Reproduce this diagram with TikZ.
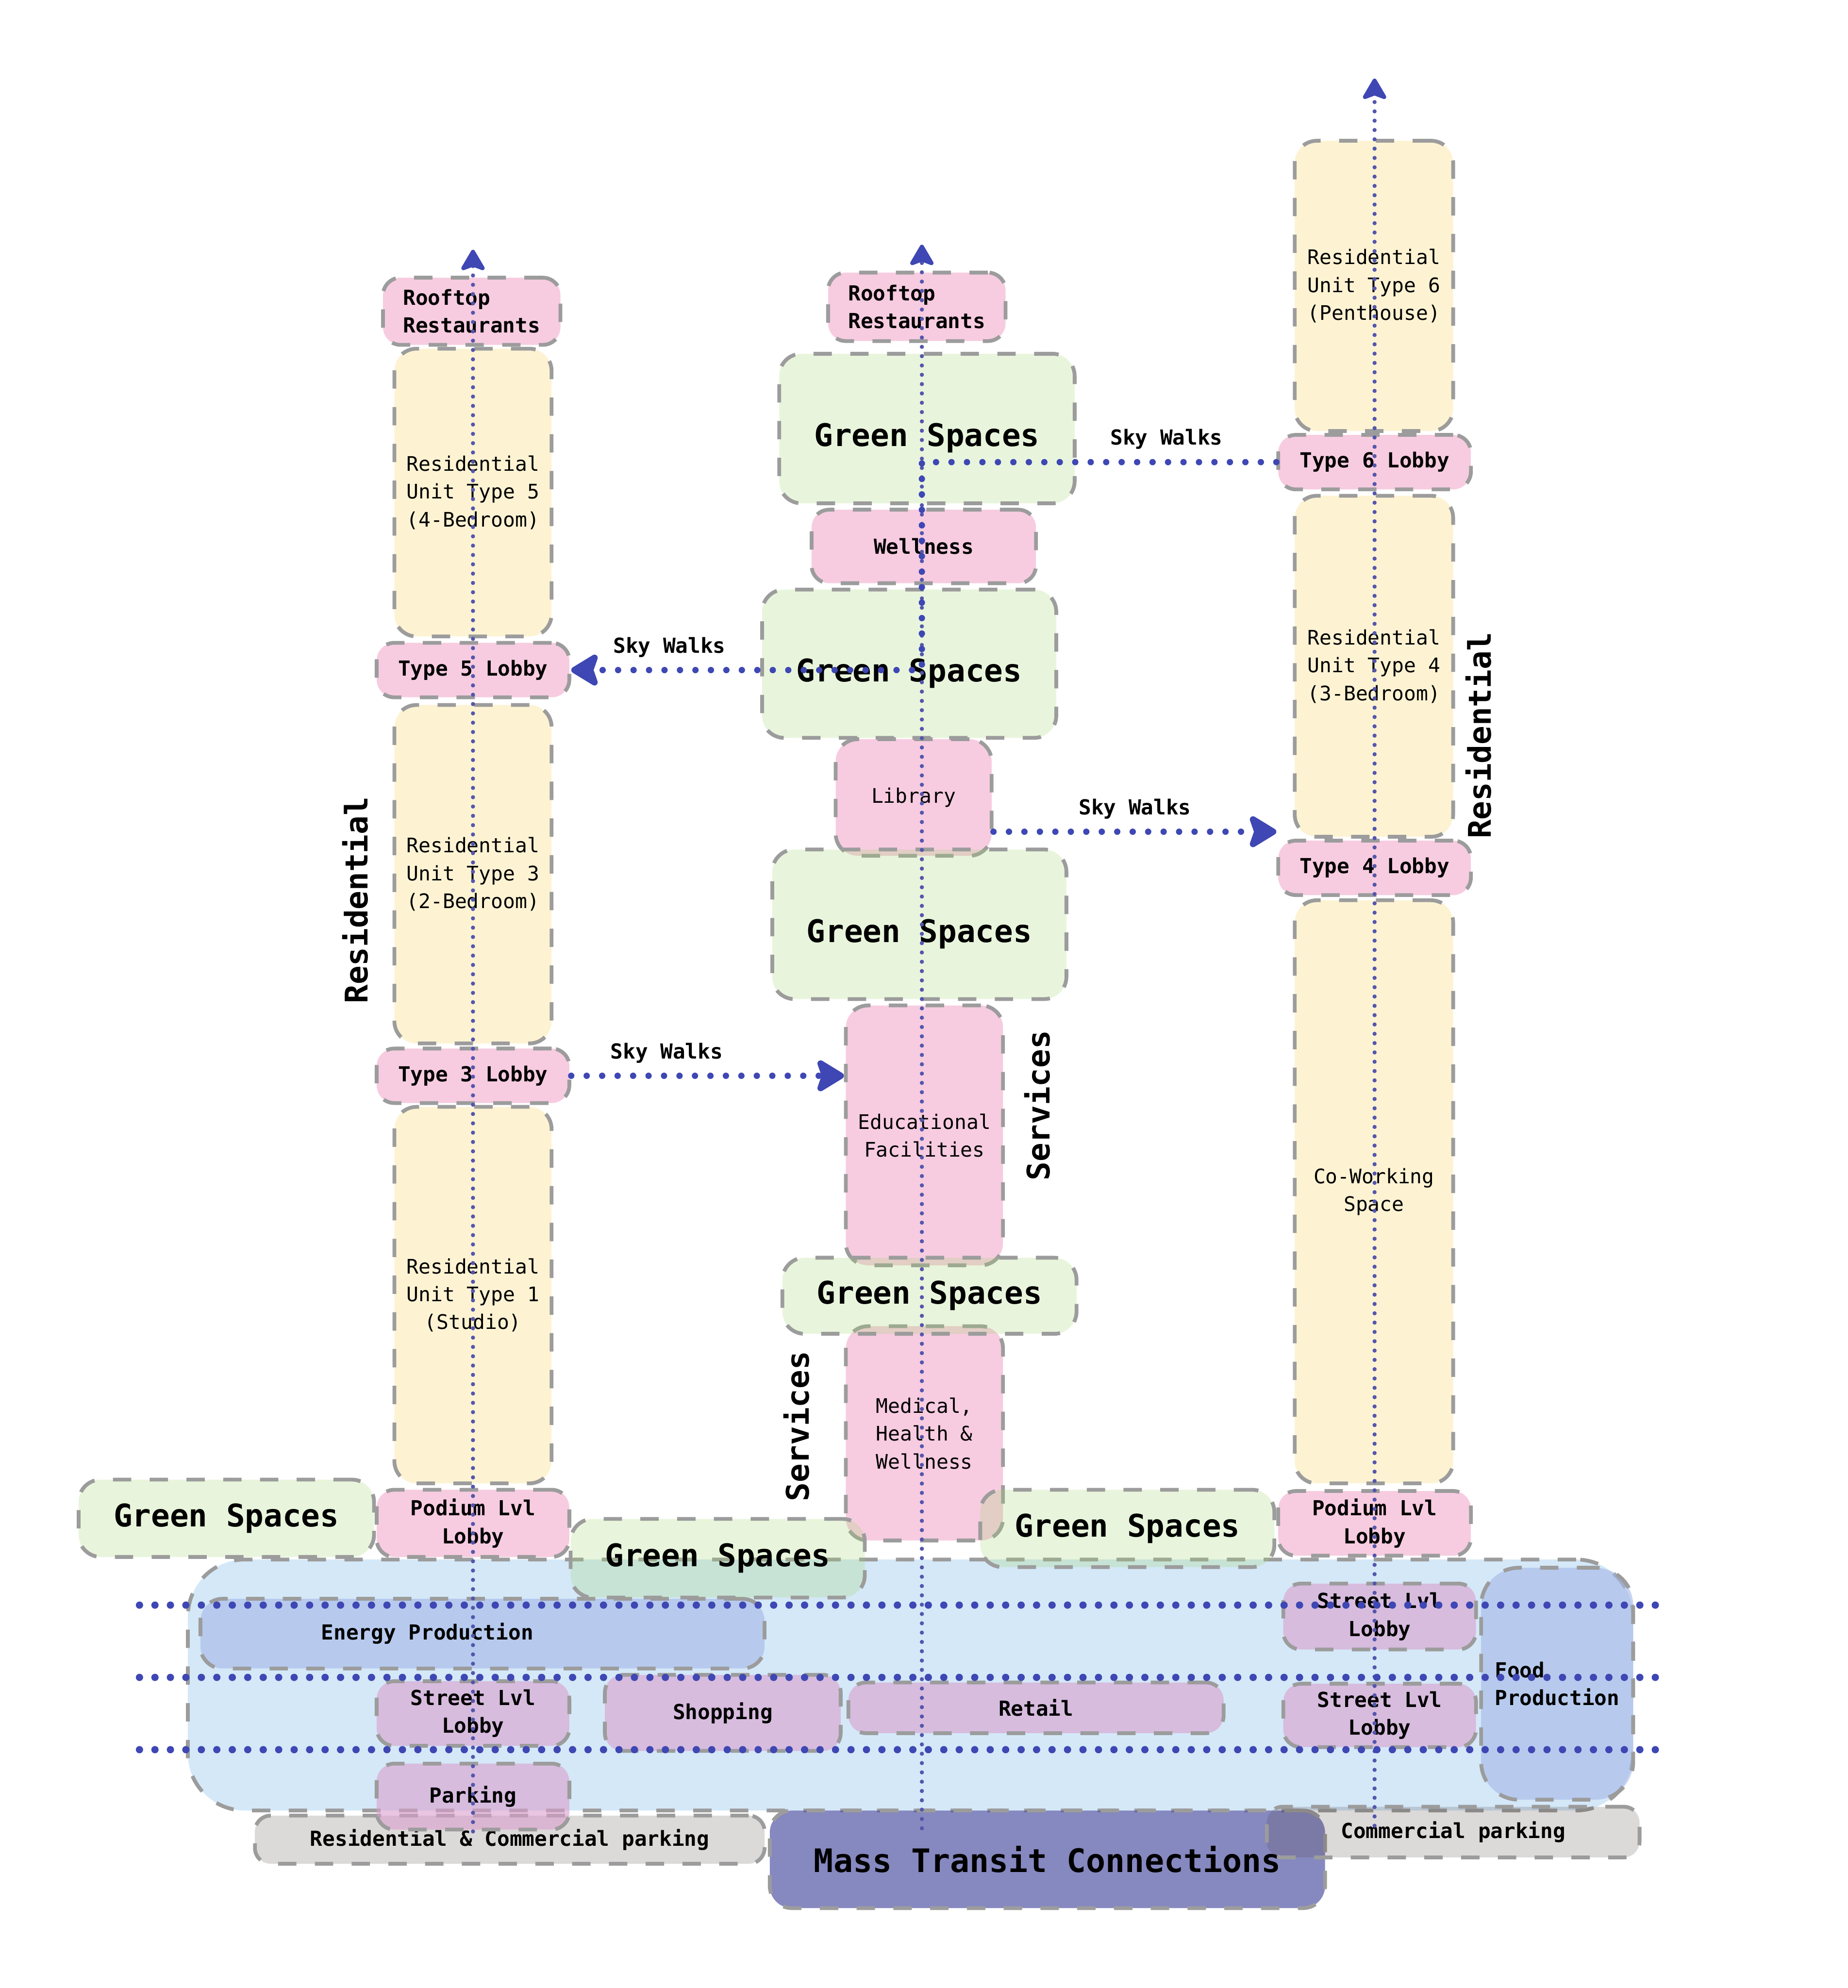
\documentclass[tikz,border=0pt]{standalone}
\usepackage{fontspec}
\setmonofont{DejaVu Sans Mono}
\usetikzlibrary{arrows.meta, calc}
\definecolor{ResYellow}{HTML}{F8D76C}
\definecolor{LobbyPink}{HTML}{E86DA6}
\definecolor{GreenSpace}{HTML}{A3D773}
\definecolor{PodiumBlue}{HTML}{70B2E8}
\definecolor{InfraBlue}{HTML}{A4B8E7}
\definecolor{StreetPurple}{HTML}{DB9FCD}
\definecolor{ParkGray}{HTML}{504141}
\definecolor{TransitBlue}{HTML}{5256A5}
\definecolor{DashGray}{HTML}{9C9C9C}
\definecolor{WalkBlue}{HTML}{3E47B3}
\definecolor{ColLine}{HTML}{5456AC}
\newcommand{\unitfont}{\ttfamily\fontsize{9}{12.5}\selectfont}
\newcommand{\lobbyfont}{\ttfamily\bfseries\fontsize{9.3}{12.5}\selectfont}
\newcommand{\bigfont}{\ttfamily\bfseries\fontsize{14}{16}\selectfont}
\newcommand{\transitfont}{\ttfamily\bfseries\fontsize{14.5}{16}\selectfont}

\begin{document}
\begin{tikzpicture}[
  x=0.02cm, y=-0.02cm,
  blk/.style={draw=DashGray, line width=1.7pt, dash pattern=on 0.29cm off 0.29cm,
    rounded corners=0.35cm, text opacity=1, align=center, inner sep=0pt, text=black},
  resbox/.style={blk, fill=ResYellow, fill opacity=0.3, font=\unitfont, minimum width=2.48cm},
  lobbybox/.style={blk, fill=LobbyPink, fill opacity=0.35, font=\lobbyfont, minimum width=3.04cm,
    minimum height=0.86cm, rounded corners=0.28cm},
  svcbox/.style={blk, fill=LobbyPink, fill opacity=0.35, font=\unitfont},
  greenbox/.style={blk, fill=GreenSpace, fill opacity=0.25, font=\bigfont, minimum width=4.64cm},
  tallgreen/.style={greenbox, text height=19pt},
  streetbox/.style={blk, fill=StreetPurple, fill opacity=0.6, font=\lobbyfont, rounded corners=0.28cm},
  infrabox/.style={blk, fill=InfraBlue, fill opacity=0.6, font=\lobbyfont},
  parkbox/.style={blk, fill=ParkGray, fill opacity=0.2, font=\lobbyfont, rounded corners=0.25cm},
  tag/.style={font=\bigfont, rotate=90},
  colline/.style={line width=0.065cm, ColLine, dash pattern=on 0pt off 0.147cm,
    line cap=round, -{Stealth[length=0.38cm, width=0.44cm, inset=0.08cm, round, color=WalkBlue]}},
  floorline/.style={line width=0.115cm, WalkBlue, dash pattern=on 0pt off 0.244cm, line cap=round},
  skywalk/.style={line width=0.1cm, WalkBlue, dash pattern=on 0pt off 0.244cm, line cap=round,
    -{Stealth[length=0.5cm, width=0.6cm, inset=0.1cm, round]}},
  walklbl/.style={font=\lobbyfont, text=black, above=1pt}
]
  \useasboundingbox (0,0) rectangle (1457,1568);

  % Podium base
  \node[blk, fill=PodiumBlue, fill opacity=0.3, rounded corners=0.9cm, minimum width=22.8cm,
    minimum height=3.96cm] (podium) at (718,1329) {};
  \node[infrabox, minimum width=8.9cm, minimum height=1.1cm] (energy) at (380.5,1288.5) {};
  \node[font=\lobbyfont] (energytxt) at (337,1288.5) {Energy Production};
  \node[streetbox, minimum width=3.72cm, minimum height=1.2cm] (shop) at (570,1351) {Shopping};
  \node[streetbox, minimum width=5.92cm, minimum height=0.8cm] (retail) at (817,1347) {Retail};
  \node[infrabox, rounded corners=0.6cm, minimum width=2.4cm, minimum height=3.66cm,
    align=left] (food) at (1228,1328) {Food\\Production};
  \node[streetbox, minimum width=3.04cm, minimum height=1.02cm] (st1) at (373,1351.5) {Street Lvl\\Lobby};
  \node[streetbox, minimum width=3.04cm, minimum height=1.04cm] (st2) at (1088,1275) {Street Lvl\\Lobby};
  \node[streetbox, minimum width=3.04cm, minimum height=1.0cm] (st3) at (1088,1353) {Street Lvl\\Lobby};

  % Parking and transit
  \node[parkbox, minimum width=8.04cm, minimum height=0.76cm] (rcpark) at (402,1451)
    {Residential \& Commercial parking};
  \node[streetbox, minimum width=3.04cm, minimum height=1.04cm] (park) at (373,1417) {Parking};
  \node[blk, fill=TransitBlue, fill opacity=0.7, font=\transitfont, minimum width=8.76cm,
    minimum height=1.54cm] (mass) at (826,1466.5) {Mass Transit Connections};
  \node[parkbox, minimum width=5.88cm, minimum height=0.8cm] (cpark) at (1146,1445) {Commercial parking};

  % Left tower
  \node[lobbybox, minimum width=2.8cm, minimum height=1.06cm, align=left] (roof1) at (372,245.5)
    {Rooftop\\Restaurants};
  \node[resbox, minimum height=4.54cm] (res5) at (373,388.5) {Residential\\Unit Type 5\\(4-Bedroom)};
  \node[lobbybox] (lob5) at (373,528.5) {Type 5 Lobby};
  \node[resbox, minimum height=5.34cm] (res3) at (373,689.5) {Residential\\Unit Type 3\\(2-Bedroom)};
  \node[lobbybox] (lob3) at (373,848.5) {Type 3 Lobby};
  \node[resbox, minimum height=5.94cm] (res1) at (373,1021.5) {Residential\\Unit Type 1\\(Studio)};
  \node[lobbybox, minimum height=1.06cm] (pod1) at (373,1201.5) {Podium Lvl\\Lobby};

  % Middle tower
  \node[lobbybox, minimum width=2.8cm, minimum height=1.08cm, align=left] (roof2) at (723,242)
    {Rooftop\\Restaurants};
  \node[tallgreen, minimum width=4.66cm, minimum height=2.36cm] (gs1) at (731,338) {Green Spaces};
  \node[lobbybox, minimum width=3.54cm, minimum height=1.16cm] (well) at (728.5,431) {Wellness};
  \node[tallgreen, minimum height=2.34cm] (gs2) at (717,523.5) {Green Spaces};
  \node[svcbox, minimum width=2.46cm, minimum height=1.84cm] (lib) at (720.5,629) {Library};
  \node[tallgreen, minimum height=2.36cm] (gs3) at (725,729) {Green Spaces};
  \node[svcbox, minimum width=2.48cm, minimum height=4.1cm] (edu) at (729,895.5) {Educational\\Facilities};
  \node[svcbox, minimum width=2.48cm, minimum height=3.38cm] (med) at (729,1130.5) {Medical,\\Health \&\\Wellness};
  \node[greenbox, minimum height=1.2cm] (gs4) at (733,1022) {Green Spaces};

  % Right tower
  \node[resbox, minimum width=2.5cm, minimum height=4.58cm] (res6) at (1083.5,225.5)
    {Residential\\Unit Type 6\\(Penthouse)};
  \node[lobbybox] (lob6) at (1084,364.5) {Type 6 Lobby};
  \node[resbox, minimum width=2.5cm, minimum height=5.38cm] (res4) at (1083.5,525.5)
    {Residential\\Unit Type 4\\(3-Bedroom)};
  \node[lobbybox] (lob4) at (1084,684.5) {Type 4 Lobby};
  \node[resbox, minimum width=2.5cm, minimum height=9.2cm] (cowork) at (1083.5,940) {Co-Working\\Space};
  \node[lobbybox, minimum height=1.02cm] (pod2) at (1084,1201.5) {Podium Lvl\\Lobby};

  % Ground level green spaces
  \node[greenbox, minimum width=4.66cm, minimum height=1.22cm] (gsL) at (178.5,1197.5) {Green Spaces};
  \node[greenbox, minimum height=1.24cm] (gsM) at (566,1229) {Green Spaces};
  \node[greenbox, minimum height=1.22cm] (gsR) at (889,1205.5) {Green Spaces};

  % Circulation cores
  \coordinate (topL) at (373,197);
  \coordinate (topM) at (727,193);
  \coordinate (botM) at (727,1442);
  \coordinate (topR) at (1084,62);
  \coordinate (botR) at (1084,1440);
  \draw[colline] (park.south) -- (topL);
  \draw[colline] (botM) -- (topM);
  \draw[colline] (botR) -- (topR);

  % Floor lines
  \foreach \y in {1266,1323,1380}
    \draw[floorline] (110,\y) -- (1313,\y);

  % Sky walks
  \draw[skywalk] (lob6.west) -- node[walklbl, pos=0.31] (sw1) {Sky Walks} (lob6.west -| topM)
    -- (lob5.east -| topM) -- node[walklbl, pos=0.72] (sw2) {Sky Walks} (lob5.east);
  \draw[skywalk] ([yshift=-0.54cm]lib.east) -- node[walklbl] (sw3) {Sky Walks}
    ([yshift=-0.54cm]lib.east -| lob4.west);
  \draw[skywalk] (lob3.east) -- node[walklbl, pos=0.35] (sw4) {Sky Walks} (lob3.east -| edu.west);

  % Section labels
  \node[tag] (tagresL) at (280,710) {Residential};
  \node[tag] (tagresR) at (1166,580) {Residential};
  \node[tag] (tagsvc1) at (818,872) {Services};
  \node[tag] (tagsvc2) at (628,1125) {Services};
\end{tikzpicture}
\end{document}
